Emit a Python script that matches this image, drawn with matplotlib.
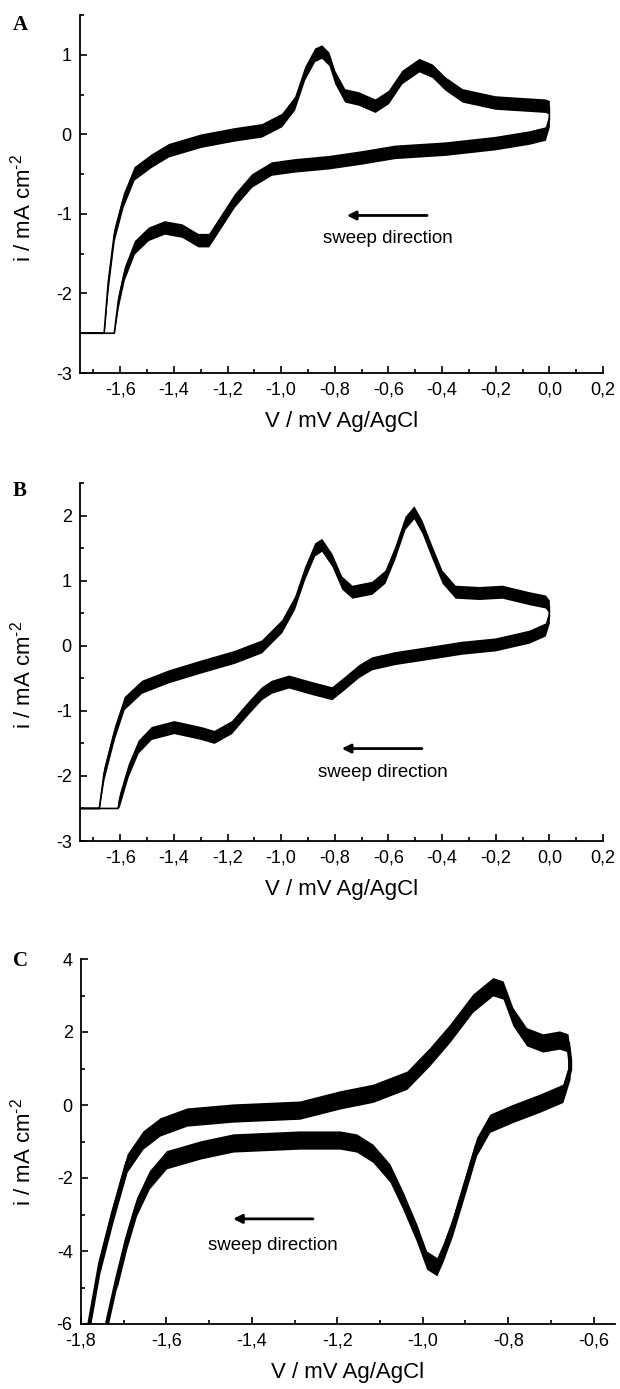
import numpy as np
import matplotlib
matplotlib.use('Agg')
from matplotlib import pyplot as plt
from matplotlib.ticker import MultipleLocator, AutoMinorLocator, FuncFormatter

plt.rcParams['font.family'] = ['Liberation Sans', 'DejaVu Sans']
plt.rcParams['mathtext.fontset'] = 'custom'
plt.rcParams['mathtext.rm'] = 'Liberation Sans'
plt.rcParams['mathtext.it'] = 'Liberation Sans:italic'
plt.rcParams['mathtext.bf'] = 'Liberation Sans:bold'

# panel A - anodic (upper) and cathodic (lower) branches, V vs Ag/AgCl, i in mA cm-2
a_up_v = [-1.75, -1.66, -1.645, -1.622, -1.589, -1.548, -1.484, -1.42, -1.30, -1.174, -1.073,
          -0.998, -0.95, -0.912, -0.875, -0.849, -0.822, -0.80, -0.763, -0.711, -0.65, -0.60,
          -0.55, -0.486, -0.437, -0.389, -0.325, -0.202, -0.015, 0.0]
a_up_i = [-2.5, -2.5, -1.87, -1.25, -0.83, -0.49, -0.33, -0.2, -0.08, 0.0, 0.05,
          0.18, 0.39, 0.77, 1.0, 1.04, 0.95, 0.72, 0.49, 0.45, 0.36, 0.47,
          0.72, 0.87, 0.80, 0.64, 0.49, 0.40, 0.36, 0.34]
a_lo_v = [-1.75, -1.622, -1.607, -1.585, -1.547, -1.495, -1.435, -1.37, -1.31, -1.27, -1.222,
          -1.174, -1.11, -1.036, -0.95, -0.822, -0.70, -0.576, -0.389, -0.202, -0.075, -0.015, 0.0]
a_lo_i = [-2.5, -2.5, -2.09, -1.75, -1.42, -1.25, -1.17, -1.21, -1.33, -1.33, -1.08,
          -0.83, -0.58, -0.43, -0.39, -0.35, -0.29, -0.22, -0.18, -0.11, -0.04, 0.01, 0.18]

# panel B
b_up_v = [-1.75, -1.678, -1.66, -1.622, -1.585, -1.52, -1.42, -1.30, -1.174, -1.073, -0.998,
          -0.95, -0.912, -0.875, -0.849, -0.811, -0.774, -0.736, -0.662, -0.613, -0.576, -0.538,
          -0.505, -0.475, -0.437, -0.40, -0.351, -0.262, -0.176, -0.075, -0.015, 0.0]
b_up_i = [-2.5, -2.5, -1.95, -1.34, -0.88, -0.63, -0.47, -0.32, -0.17, -0.01, 0.30,
          0.66, 1.12, 1.48, 1.55, 1.32, 0.97, 0.83, 0.89, 1.06, 1.43, 1.89,
          2.05, 1.83, 1.43, 1.06, 0.83, 0.81, 0.83, 0.73, 0.68, 0.60]
b_lo_v = [-1.75, -1.608, -1.603, -1.57, -1.533, -1.484, -1.40, -1.30, -1.25, -1.185, -1.12,
          -1.073, -1.036, -0.972, -0.886, -0.811, -0.763, -0.711, -0.662, -0.576, -0.449, -0.325,
          -0.202, -0.075, -0.015, 0.0]
b_lo_i = [-2.5, -2.5, -2.37, -1.91, -1.55, -1.34, -1.25, -1.34, -1.40, -1.25, -0.94,
          -0.73, -0.63, -0.55, -0.65, -0.73, -0.57, -0.39, -0.27, -0.19, -0.11, -0.03,
          0.02, 0.14, 0.25, 0.45]

# panel C
c_up_v = [-1.785, -1.755, -1.725, -1.692, -1.655, -1.615, -1.552, -1.444, -1.288, -1.194, -1.117,
          -1.037, -0.984, -0.937, -0.883, -0.836, -0.812, -0.789, -0.757, -0.719, -0.68, -0.66,
          -0.655]
c_up_i = [-6.3, -4.33, -2.96, -1.59, -0.96, -0.6, -0.33, -0.22, -0.14, 0.14, 0.32,
          0.68, 1.32, 1.96, 2.79, 3.24, 3.15, 2.42, 1.87, 1.70, 1.78, 1.70,
          1.23]
c_lo_v = [-1.745, -1.716, -1.693, -1.67, -1.64, -1.6, -1.52, -1.444, -1.288, -1.194, -1.155,
          -1.117, -1.077, -1.047, -1.014, -0.991, -0.967, -0.953, -0.930, -0.897, -0.874, -0.843,
          -0.789, -0.726, -0.672, -0.655]
c_lo_i = [-6.3, -4.79, -3.7, -2.79, -2.05, -1.5, -1.23, -1.04, -0.96, -0.96, -1.04,
          -1.32, -1.86, -2.60, -3.51, -4.25, -4.43, -4.06, -3.33, -2.05, -1.14, -0.50,
          -0.23, 0.05, 0.32, 0.96]


def xfmt(v, pos):
    if abs(v) < 1e-9:
        v = 0.0
    return ('%.1f' % v).replace('.', ',')


def yfmt(v, pos):
    return '%d' % round(v)


def draw_panel(rect, letter, up_v, up_i, lo_v, lo_i, xlim, ylim, xstep, ystep, band, lw,
               arrow, text_pos, ylab_y):
    ax = fig.add_axes(rect)
    up_v = np.array(up_v)
    up_i = np.array(up_i)
    lo_v = np.array(lo_v)
    lo_i = np.array(lo_i)
    loop_v = np.concatenate([up_v, lo_v[::-1]])
    loop_i = np.concatenate([up_i, lo_i[::-1]])
    ax.plot(loop_v, loop_i, color='black', lw=lw, solid_joinstyle='round')
    floor = ylim[0] if ylim[0] < -3 else -2.5
    ax.fill_between(up_v[1:], np.maximum(up_i[1:] - band, floor), up_i[1:] + band,
                    color='black', lw=0)
    ax.fill_between(lo_v[1:], np.maximum(lo_i[1:] - band, floor), lo_i[1:] + band,
                    color='black', lw=0)

    ax.set_xlim(*xlim)
    ax.set_ylim(*ylim)
    ax.spines['top'].set_visible(False)
    ax.spines['right'].set_visible(False)
    ax.spines['left'].set_linewidth(1.3)
    ax.spines['bottom'].set_linewidth(1.3)
    ax.xaxis.set_major_locator(MultipleLocator(xstep))
    ax.xaxis.set_minor_locator(AutoMinorLocator(2))
    ax.yaxis.set_major_locator(MultipleLocator(ystep))
    ax.yaxis.set_minor_locator(AutoMinorLocator(2))
    ax.xaxis.set_major_formatter(FuncFormatter(xfmt))
    ax.yaxis.set_major_formatter(FuncFormatter(yfmt))
    ax.tick_params(which='both', direction='in', width=1.2, labelsize=13)
    ax.tick_params(which='major', length=5)
    ax.tick_params(which='minor', length=3)
    ax.tick_params(axis='x', pad=6)
    ax.tick_params(axis='y', pad=6)

    ax.set_xlabel('V / mV Ag/AgCl', fontsize=16)
    ax.set_ylabel('i / mA cm$^{\u20102}$', fontsize=16)
    ax.xaxis.set_label_coords(0.5, -0.105)
    ax.yaxis.set_label_coords(-0.085, ylab_y)

    ax.annotate('', xy=arrow[0], xytext=arrow[1],
                arrowprops=dict(arrowstyle='-|>', color='black', lw=2, mutation_scale=13,
                                shrinkA=0, shrinkB=0))
    ax.text(text_pos[0], text_pos[1], 'sweep direction', fontsize=13.5,
            ha='center', va='center')

    fig.text(20 / 620, 1 - rect_top_px[letter] / 1389, letter, fontsize=15,
             fontweight='bold', family='Liberation Serif', ha='center', va='center')
    return ax


fig = plt.figure(figsize=(6.2, 13.89), dpi=100)
rect_top_px = {'A': 25, 'B': 491, 'C': 961}

draw_panel([80 / 620, 1 - 373 / 1389, 523 / 620, 358 / 1389], 'A',
           a_up_v, a_up_i, a_lo_v, a_lo_i, (-1.75, 0.2), (-3, 1.5), 0.2, 1, 0.085, 1.2,
           ((-0.755, -1.02), (-0.456, -1.02)), (-0.602, -1.31), 0.46)
draw_panel([80 / 620, 1 - 841 / 1389, 523 / 620, 358 / 1389], 'B',
           b_up_v, b_up_i, b_lo_v, b_lo_i, (-1.75, 0.2), (-3, 2.5), 0.2, 1, 0.1, 1.2,
           ((-0.774, -1.58), (-0.475, -1.58)), (-0.621, -1.95), 0.464)
draw_panel([81 / 620, 1 - 1324 / 1389, 534 / 620, 365 / 1389], 'C',
           c_up_v, c_up_i, c_lo_v, c_lo_i, (-1.8, -0.55), (-6, 4), 0.2, 2, 0.25, 3.0,
           ((-1.444, -3.12), (-1.257, -3.12)), (-1.351, -3.84), 0.47)

plt.savefig('out.png', dpi=100)
